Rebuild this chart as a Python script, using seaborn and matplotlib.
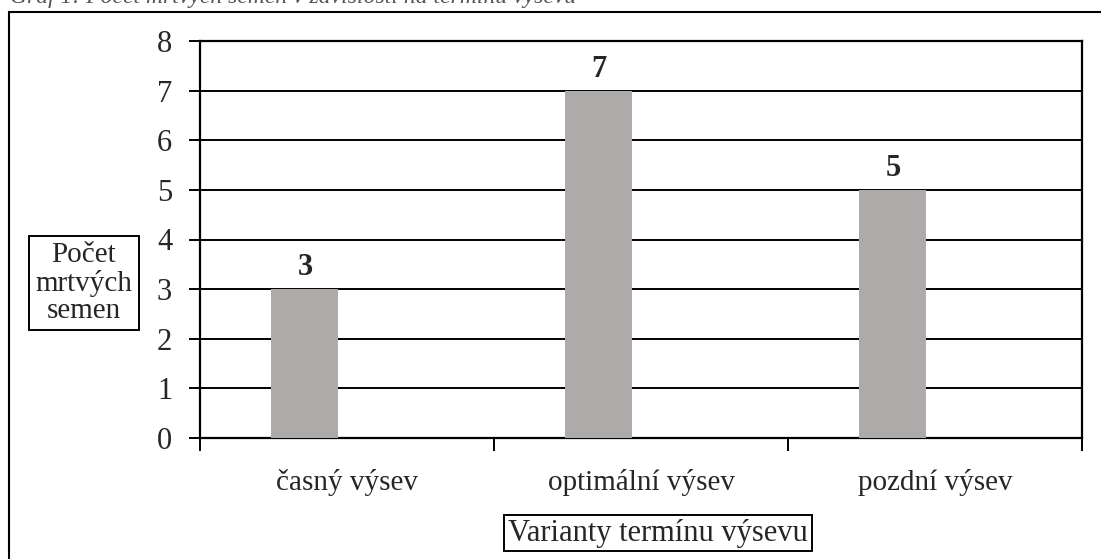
import matplotlib
matplotlib.use("Agg")
import matplotlib.pyplot as plt
import matplotlib.patches as mpatches
import seaborn as sns
import pandas as pd

# data
varianty = ["časný výsev", "optimální výsev", "pozdní výsev"]
mrtva_semena = [3, 7, 5]
caption = "Graf 1: Počet mrtvých semen v závislosti na termínu výsevu"

df = pd.DataFrame({"Varianta": varianty, "Pocet": mrtva_semena})

sns.set_style("white")
plt.rcParams["font.family"] = ["Liberation Serif", "DejaVu Serif"]

W, H = 1101, 559
fig = plt.figure(figsize=(W / 100, H / 100), dpi=100)
ax = fig.add_axes([200 / W, 1 - 438 / H, 882 / W, 397 / H])

sns.barplot(data=df, x="Varianta", y="Pocet", color="#aeaaa9", saturation=1,
            width=0.228, ax=ax, zorder=3)

# bars sit left of the category centre (empty second series in the original)
shift = -0.143
for p in ax.patches:
    p.set_x(p.get_x() + shift)
    p.set_edgecolor("none")

for i, v in enumerate(mrtva_semena):
    ax.annotate(str(v), (i + shift, v), xytext=(0, 10), textcoords="offset points",
                ha="center", va="baseline", fontsize=22, fontweight="bold")

ax.set_xlim(-0.5, len(varianty) - 0.5)
ax.set_ylim(0, 8)
ax.set_yticks(range(0, 9))
ax.yaxis.grid(True, color="black", lw=1.4, zorder=0)
ax.set_axisbelow(True)

ax.set_xticks([i - 0.5 for i in range(len(varianty) + 1)])
ax.set_xticklabels([])
ax.set_xticks(range(len(varianty)), minor=True)
ax.set_xticklabels(varianty, minor=True)
ax.tick_params(axis="x", which="major", direction="out", length=9, width=1.4,
               color="black", bottom=True)
ax.tick_params(axis="x", which="minor", length=0, pad=22, labelsize=21)
ax.tick_params(axis="y", direction="out", length=8, width=1.4, color="black",
               left=True, pad=12, labelsize=22)
ax.set_xlabel("")
ax.set_ylabel("")
for s in ax.spines.values():
    s.set_visible(True)
    s.set_color("black")
    s.set_linewidth(1.6)

# axis titles in boxes
box = dict(boxstyle="square,pad=0.22", fc="white", ec="black", lw=1.4)
fig.text(84 / W, 1 - 283 / H, "Počet\nmrtvých\nsemen", ha="center", va="center",
         multialignment="center", fontsize=21, linespacing=1.05, bbox=box)
fig.text(658 / W, 1 - 533 / H, "Varianty termínu výsevu", ha="center", va="center",
         fontsize=22, bbox=dict(boxstyle="square,pad=0.12", fc="white", ec="black", lw=1.4))

# outer chart frame (runs off the right and bottom edge)
fig.patches.append(mpatches.Rectangle((9 / W, -0.1), 1.2, 1.1 - 12 / H,
                                      transform=fig.transFigure, fill=False,
                                      ec="black", lw=1.5))

# caption, mostly cut off at the top edge
fig.text(10 / W, 1 - 3 / H, caption, ha="left", va="baseline", fontsize=17,
         style="italic", color="#555555")

fig.savefig("out.png", dpi=100)
